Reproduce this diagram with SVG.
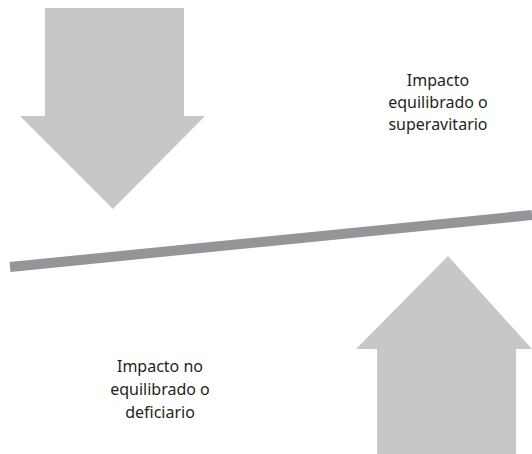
<svg xmlns="http://www.w3.org/2000/svg" width="532" height="454" viewBox="0 0 532 454">
<style>
.arrow{fill:#c6c7c9}
.beam{stroke:#939598;stroke-width:10;fill:none}
text{font-family:"Noto Sans","Open Sans",sans-serif;font-size:16px;fill:#231f20;text-anchor:middle}
</style>
<rect width="532" height="454" fill="#ffffff"/>
<g id="arrow-down"><polygon class="arrow" points="45,8 184,8 184,116 205,116 113,209 20,116 45,116"/></g>
<g id="arrow-up"><polygon class="arrow" points="448,256 532,349 516,349 516,454 377,454 377,349 356,349"/></g>
<g id="beam"><line class="beam" x1="10" y1="267" x2="532" y2="215"/></g>
<g id="label-top"><text x="438" y="86">Impacto</text><text x="438" y="108">equilibrado o</text><text x="438" y="130">superavitario</text></g>
<g id="label-bottom"><text x="160" y="372">Impacto no</text><text x="160" y="395">equilibrado o</text><text x="160" y="418">deficiario</text></g>
</svg>
